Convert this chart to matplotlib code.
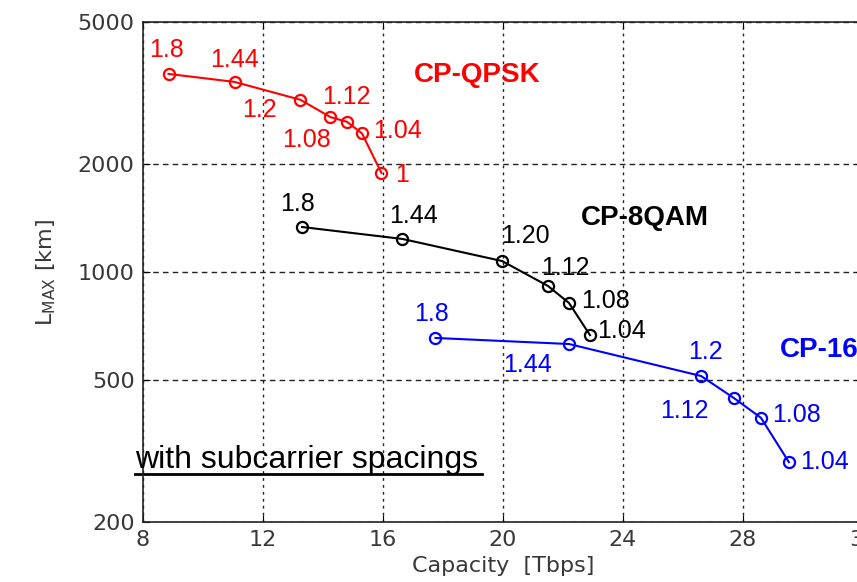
import matplotlib
matplotlib.use("Agg")
import matplotlib.pyplot as plt
from matplotlib.ticker import FixedLocator, FixedFormatter, NullLocator

plt.rcParams['font.family'] = ['Liberation Sans', 'DejaVu Sans']

# spacing labels and values
qpsk_labels = ["1.8", "1.44", "1.2", "1.12", "1.08", "1.04", "1"]
qpsk_cap = [8.85, 11.05, 13.25, 14.25, 14.8, 15.3, 15.95]
qpsk_len = [3580, 3400, 3030, 2710, 2630, 2440, 1890]

qam8_labels = ["1.8", "1.44", "1.20", "1.12", "1.08", "1.04"]
qam8_cap = [13.3, 16.65, 19.97, 21.5, 22.2, 22.9]
qam8_len = [1336, 1237, 1073, 914, 819, 666]

qam16_labels = ["1.8", "1.44", "1.2", "1.12", "1.08", "1.04"]
qam16_cap = [17.75, 22.2, 26.6, 27.7, 28.6, 29.53]
qam16_len = [654, 629, 512, 444, 391, 294]

# label offsets in pixels (layout only)
qpsk_off = [(-2, 24), (0, 22), (-41, -10), (16, 20), (-40, -18), (36, 2), (21, -2)]
qam8_off = [(-5, 23), (11, 23), (23, 25), (17, 18), (37, 2), (32, 4)]
qam16_off = [(-4, 24), (-41, -21), (4, 24), (-50, -13), (36, 3), (36, 0)]

xticks = [8, 12, 16, 20, 24, 28, 32]
yticks = [200, 500, 1000, 2000, 5000]

fig = plt.figure(figsize=(8.57, 5.82), dpi=100)
ax = fig.add_axes([143 / 857, 60 / 582, 720 / 857, 500 / 582])
ax.set_yscale('log')
ax.set_xlim(8, 32)
ax.set_ylim(200, 5000)

series = [
    (qpsk_cap, qpsk_len, qpsk_labels, qpsk_off, 'red'),
    (qam8_cap, qam8_len, qam8_labels, qam8_off, 'black'),
    (qam16_cap, qam16_len, qam16_labels, qam16_off, 'blue'),
]
for xs, ys, labs, offs, col in series:
    ax.plot(xs, ys, '-o', color=col, lw=1.5, markersize=8,
            markerfacecolor='none', markeredgewidth=1.6, clip_on=False)
    for x, y, lab, off in zip(xs, ys, labs, offs):
        ax.annotate(lab, (x, y), xytext=off, textcoords='offset pixels',
                    ha='center', va='center', color=col, fontsize=18)

ax.text(0.464, 0.894, "CP-QPSK", transform=ax.transAxes, color='red',
        fontsize=20, fontweight='bold', ha='center', va='center')
ax.text(0.697, 0.608, "CP-8QAM", transform=ax.transAxes, color='black',
        fontsize=20, fontweight='bold', ha='center', va='center')
ax.text(0.885, 0.344, "CP-16QAM", transform=ax.transAxes, color='blue',
        fontsize=20, fontweight='bold', ha='left', va='center', clip_on=False)

ax.text(-0.011, 0.108, "with subcarrier spacings", transform=ax.transAxes,
        fontsize=23, ha='left', va='baseline', clip_on=False)
ax.plot([-0.011, 0.471], [0.096, 0.096], transform=ax.transAxes,
        color='black', lw=2, clip_on=False)

ax.xaxis.set_major_locator(FixedLocator(xticks))
ax.yaxis.set_major_locator(FixedLocator(yticks))
ax.yaxis.set_major_formatter(FixedFormatter([str(v) for v in yticks]))
ax.yaxis.set_minor_locator(NullLocator())
ax.tick_params(direction='in', top=True, right=True, length=5,
               labelsize=16, labelcolor='#383838', pad=6)
for lab in ax.get_xticklabels() + ax.get_yticklabels():
    lab.set_family('DejaVu Sans')
ax.xaxis.grid(True, color='#222222', linestyle=(0, (2, 3)), lw=1)
ax.yaxis.grid(True, color='#222222', linestyle=(0, (4, 3)), lw=1)
for s in ax.spines.values():
    s.set_linewidth(1.2)
    s.set_color('#222222')

ax.set_xlabel("Capacity  [Tbps]", fontsize=16, color='#383838', labelpad=4,
              family='DejaVu Sans')
ax.set_ylabel(r"L$_{\rm MAX}$ [km]", fontsize=16, color='#383838', labelpad=14,
              family='DejaVu Sans')

fig.savefig("out.png", dpi=100)
